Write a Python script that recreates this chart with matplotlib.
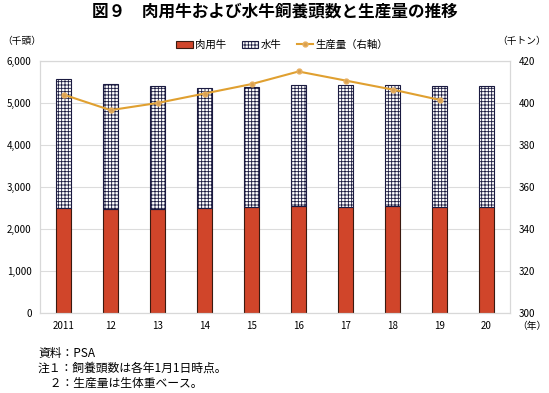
import matplotlib.pyplot as plt
import numpy as np

plt.rcParams['font.family'] = ['Noto Sans CJK JP', 'DejaVu Sans']
plt.rcParams['hatch.linewidth'] = 0.6
plt.rcParams['hatch.color'] = '#4a4aa8'

years = ['2011', '12', '13', '14', '15', '16', '17', '18', '19', '20']
beef = [2505, 2481, 2481, 2505, 2528, 2552, 2528, 2552, 2528, 2528]
total = [5580, 5450, 5410, 5355, 5375, 5425, 5425, 5425, 5415, 5415]
buffalo = [t - b for t, b in zip(total, beef)]
production = [404.0, 396.6, 400.0, 404.5, 409.0, 415.0, 410.7, 406.4, 401.5]

x = np.arange(len(years))

fig = plt.figure(figsize=(5.49, 3.93), dpi=100)
ax = fig.add_axes([40/549, 1-313/393, 470/549, 252/393])

# bars
ax.bar(x, beef, width=0.32, color='#d0452a', edgecolor='#3a1a10', linewidth=0.8, label='肉用牛', zorder=2)
ax.bar(x, buffalo, bottom=beef, width=0.32, color='white', edgecolor='#1a1a40',
       hatch='+++++', linewidth=0.8, label='水牛', zorder=2)

ax.set_xlim(-0.5, len(years) - 0.5)
ax.set_ylim(0, 6000)
ax.set_yticks(range(0, 6001, 1000))
ax.set_yticklabels([f'{v:,}' for v in range(0, 6001, 1000)], fontsize=7)
ax.set_xticks(x)
ax.set_xticklabels(years, fontsize=7)
ax.tick_params(length=0, pad=6)
ax.grid(axis='y', color='#dcdcdc', linewidth=0.8, zorder=0)
for s in ax.spines.values():
    s.set_color('#d8d8d8')

# line on right axis
ax2 = ax.twinx()
ax2.plot(x[:len(production)], production, color='#e0a030', linewidth=1.5,
         marker='o', markersize=3.5, markerfacecolor='#d9a050', markeredgecolor='#e8b060',
         label='生産量（右軸）', zorder=3)
ax2.set_ylim(300, 420)
ax2.set_yticks(range(300, 421, 20))
ax2.tick_params(length=0, pad=6, labelsize=7)
for s in ax2.spines.values():
    s.set_color('#d8d8d8')

fig.text(0.5, 0.97, '図９　肉用牛および水牛飼養頭数と生産量の推移', ha='center', va='center',
         fontsize=12, fontweight='bold')
fig.text(22/549, 1-41/393, '（千頭）', ha='center', va='center', fontsize=7)
fig.text(546/549, 1-41/393, '（千トン）', ha='right', va='center', fontsize=7)
fig.text(532/549, 1-326/393, '（年）', ha='center', va='center', fontsize=7)

h1, l1 = ax.get_legend_handles_labels()
h2, l2 = ax2.get_legend_handles_labels()
fig.legend(h1 + h2, l1 + l2, loc='center', bbox_to_anchor=(282/549, 1-45/393), ncol=3,
           frameon=False, fontsize=7.5, handlelength=1.6, handleheight=0.8, columnspacing=1.5,
           handletextpad=0.2)

notes = ['資料：PSA', '注１：飼養頭数は各年1月1日時点。', '　２：生産量は生体重ベース。']
for i, n in enumerate(notes):
    fig.text(38/549, 1-(353 + 15*i)/393, n, ha='left', va='center', fontsize=8.5)

fig.savefig('out.png', dpi=100)
